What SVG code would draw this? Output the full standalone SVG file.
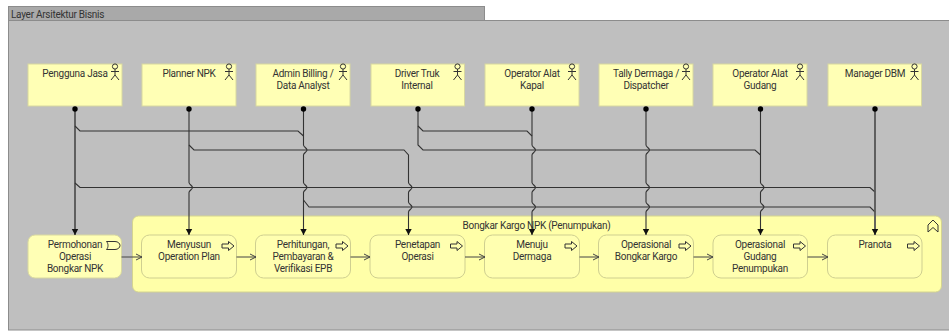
<svg xmlns="http://www.w3.org/2000/svg" width="949" height="331" viewBox="0 0 949 331">
<style>
text{font-family:Roboto,"Liberation Sans",sans-serif;font-size:10px;letter-spacing:-0.27px;fill:#333;text-anchor:middle}
.actor{fill:#ffffb5;stroke:#d8d8a0;stroke-width:1}
.proc{fill:#ffffb0;stroke:#cfcf90;stroke-width:1}
.icon{fill:none;stroke:#333;stroke-width:1}
.c{fill:none;stroke:#333;stroke-width:1.1}
.t{fill:none;stroke:#555;stroke-width:1.8}
.f{fill:none;stroke:#444;stroke-width:1;marker-end:url(#open)}
.dot{fill:#000}
</style>
<defs>
<marker id="tri" markerUnits="userSpaceOnUse" markerWidth="8" markerHeight="8" refX="6" refY="4" orient="auto"><path d="M0 0.8L6 4L0 7.2Z" fill="#111"/></marker>
<marker id="open" markerUnits="userSpaceOnUse" markerWidth="8" markerHeight="8" refX="6.5" refY="4" orient="auto"><path d="M0.5 1L6.5 4L0.5 7" fill="none" stroke="#444"/></marker>
<g id="stick"><circle cx="0" cy="-7.5" r="2.6" class="icon"/><path d="M0 -5V1M-4 -2.5H4M0 1L-4 6M0 1L4 6" class="icon"/></g>
<path id="parrow" d="M-6 -2H0.5V-4.5L6 0L0.5 4.5V2H-6Z" class="icon"/>
</defs>
<g id="layer">
<rect x="8.500" y="6.500" width="476" height="14" fill="#a9a9a9" stroke="#8c8c8c"/>
<rect x="8.500" y="20.500" width="941" height="309.500" fill="#bfbfbf" stroke="#8c8c8c"/>
<text x="11" y="17.500" style="text-anchor:start">Layer Arsitektur Bisnis</text>
</g>
<g id="actor-pengguna"><rect class="actor" x="28" y="64" width="94" height="42"/><text x="75" y="76.500">Pengguna Jasa</text><use href="#stick" x="115" y="74"/></g>
<g id="actor-planner"><rect class="actor" x="142" y="64" width="94" height="42"/><text x="189" y="76.500">Planner NPK</text><use href="#stick" x="229" y="74"/></g>
<g id="actor-admin"><rect class="actor" x="256" y="64" width="94" height="42"/><text x="303" y="76.500">Admin Billing /</text><text x="303" y="88.500">Data Analyst</text><use href="#stick" x="343" y="74"/></g>
<g id="actor-driver"><rect class="actor" x="371" y="64" width="93.500" height="42"/><text x="417" y="76.500">Driver Truk</text><text x="417" y="88.500">Internal</text><use href="#stick" x="457.500" y="74"/></g>
<g id="actor-kapal"><rect class="actor" x="485" y="64" width="94" height="42"/><text x="532" y="76.500">Operator Alat</text><text x="532" y="88.500">Kapal</text><use href="#stick" x="572" y="74"/></g>
<g id="actor-tally"><rect class="actor" x="599" y="64" width="94" height="42"/><text x="646" y="76.500">Tally Dermaga /</text><text x="646" y="88.500">Dispatcher</text><use href="#stick" x="686" y="74"/></g>
<g id="actor-gudang"><rect class="actor" x="713" y="64" width="94" height="42"/><text x="760" y="76.500">Operator Alat</text><text x="760" y="88.500">Gudang</text><use href="#stick" x="800" y="74"/></g>
<g id="actor-manager"><rect class="actor" x="828" y="64" width="93.500" height="42"/><text x="875" y="76.500">Manager DBM</text><use href="#stick" x="914.500" y="74"/></g>
<g id="group-bongkar"><rect x="132.500" y="216" width="809" height="76" rx="6" fill="#ffffa8" stroke="#d4d490"/><text x="536.500" y="228.500">Bongkar Kargo NPK (Penumpukan)</text><path class="icon" d="M928 225L933 220L938 225V232L933 227.500L928 232Z"/></g>
<g id="event-permohonan"><rect class="actor" x="28" y="235" width="93.500" height="43" rx="7"/><text x="75" y="248">Permohonan</text><text x="75" y="260">Operasi</text><text x="75" y="272">Bongkar NPK</text><path class="icon" d="M106.500 241.500H115C118 241.500 120 243.500 120 245.500C120 247.500 118 249.500 115 249.500H106.500C108.500 247.500 108.500 243.500 106.500 241.500Z"/></g>
<g id="proc-menyusun"><rect class="proc" x="141.500" y="235" width="95" height="43" rx="8"/><text x="189" y="248">Menyusun</text><text x="189" y="260">Operation Plan</text><use href="#parrow" x="228" y="246"/></g>
<g id="proc-perhitungan"><rect class="proc" x="255.500" y="235" width="95" height="43" rx="8"/><text x="303" y="248">Perhitungan,</text><text x="303" y="260">Pembayaran &amp;</text><text x="303" y="272">Verifikasi EPB</text><use href="#parrow" x="342" y="246"/></g>
<g id="proc-penetapan"><rect class="proc" x="370" y="235" width="95" height="43" rx="8"/><text x="417.500" y="248">Penetapan</text><text x="417.500" y="260">Operasi</text><use href="#parrow" x="456.500" y="246"/></g>
<g id="proc-menuju"><rect class="proc" x="484.500" y="235" width="95" height="43" rx="8"/><text x="532" y="248">Menuju</text><text x="532" y="260">Dermaga</text><use href="#parrow" x="571" y="246"/></g>
<g id="proc-bongkar"><rect class="proc" x="598.500" y="235" width="95" height="43" rx="8"/><text x="646" y="248">Operasional</text><text x="646" y="260">Bongkar Kargo</text><use href="#parrow" x="685" y="246"/></g>
<g id="proc-gudang"><rect class="proc" x="713" y="235" width="94.500" height="43" rx="8"/><text x="760" y="248">Operasional</text><text x="760" y="260">Gudang</text><text x="760" y="272">Penumpukan</text><use href="#parrow" x="799.500" y="246"/></g>
<g id="proc-pranota"><rect class="proc" x="827.500" y="235" width="94.500" height="43" rx="8"/><text x="875" y="248">Pranota</text><use href="#parrow" x="913.500" y="246"/></g>
<g id="connectors">
<path class="t" d="M75 109V235" marker-end="url(#tri)"/>
<path class="c" d="M75 126L80 131H298L303.500 136"/>
<path class="c" d="M75 183L80 187.500H870L875 192"/>
<path class="c" d="M189 109V182.500C189 184.500 192.500 185.500 192.500 187.500C192.500 189.500 189 190.500 189 192.500V235" marker-end="url(#tri)"/>
<path class="c" d="M189 145L194 150H404L408.500 155V182.500C408.500 184.500 412 185.500 412 187.500C412 189.500 408.500 190.500 408.500 192.500V202C408.500 204 412 205 412 207C412 209 408.500 210 408.500 212V235" marker-end="url(#tri)"/>
<path class="c" d="M303.500 109V145C303.500 147 307 148 307 150C307 152 303.500 153 303.500 155V182.500C303.500 184.500 307 185.500 307 187.500C307 189.500 303.500 190.500 303.500 192.500V235" marker-end="url(#tri)"/>
<path class="c" d="M303.500 200L309 207H870L875 212"/>
<path class="c" d="M418 109V145L423 150H755L760.500 155"/>
<path class="c" d="M418 126L423 131H527L532 136"/>
<path class="c" d="M532 109V145C532 147 535.500 148 535.500 150C535.500 152 532 153 532 155V182.500C532 184.500 535.500 185.500 535.500 187.500C535.500 189.500 532 190.500 532 192.500V202C532 204 535.500 205 535.500 207C535.500 209 532 210 532 212V235" marker-end="url(#tri)"/>
<path class="c" d="M646 109V145C646 147 649.500 148 649.500 150C649.500 152 646 153 646 155V182.500C646 184.500 649.500 185.500 649.500 187.500C649.500 189.500 646 190.500 646 192.500V202C646 204 649.500 205 649.500 207C649.500 209 646 210 646 212V235" marker-end="url(#tri)"/>
<path class="c" d="M760.500 109V182.500C760.500 184.500 764 185.500 764 187.500C764 189.500 760.500 190.500 760.500 192.500V202C760.500 204 764 205 764 207C764 209 760.500 210 760.500 212V235" marker-end="url(#tri)"/>
<path class="t" d="M875 109V235" marker-end="url(#tri)"/>
<circle class="dot" cx="75" cy="109" r="2.700"/><circle class="dot" cx="189" cy="109" r="2.700"/><circle class="dot" cx="303.500" cy="109" r="2.700"/><circle class="dot" cx="418" cy="109" r="2.700"/><circle class="dot" cx="532" cy="109" r="2.700"/><circle class="dot" cx="646" cy="109" r="2.700"/><circle class="dot" cx="760.500" cy="109" r="2.700"/><circle class="dot" cx="875" cy="109" r="2.700"/>
<path class="f" d="M121.500 257H142"/><path class="f" d="M236.500 257H256"/><path class="f" d="M350.500 257H370"/><path class="f" d="M465 257H485"/><path class="f" d="M579.500 257H599"/><path class="f" d="M693.500 257H713"/><path class="f" d="M807.500 257H828"/>
</g>
</svg>
